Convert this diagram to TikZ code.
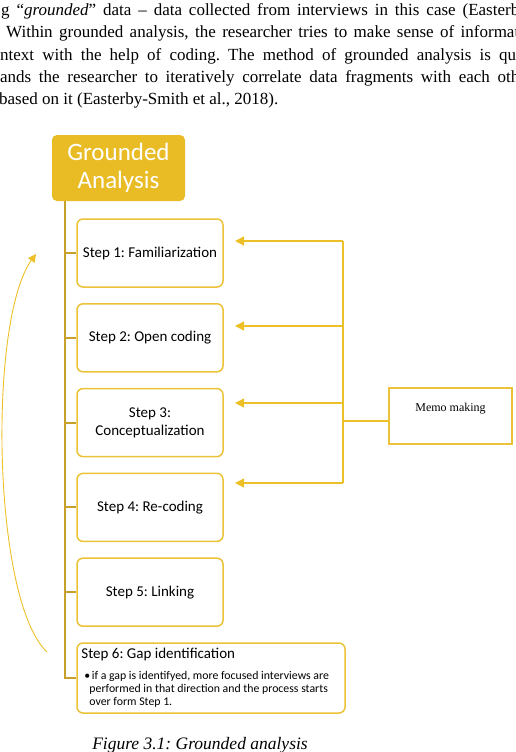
\documentclass[tikz,border=0pt]{standalone}
\usepackage{fontspec}
\setmainfont{Liberation Serif}
\newfontfamily\calibri{Carlito}
\usetikzlibrary{arrows.meta}

\definecolor{gaGold}{RGB}{233,187,36}
\definecolor{gaDark}{RGB}{198,160,42}
\definecolor{gaLine}{RGB}{236,194,56}
\definecolor{gaArrow}{RGB}{238,192,40}

\frenchspacing

\begin{document}
\begin{tikzpicture}[
		x=1pt, y=-1pt,
		body line/.style={anchor=base west, inner sep=0pt, font=\fontsize{17}{22}\selectfont},
		head box/.style={fill=gaGold, rounded corners=5pt, minimum width=133pt, minimum height=66pt,
			inner sep=0pt, align=center, text=white, font=\calibri\fontsize{25}{28}\selectfont},
		step box/.style={draw=gaLine, line width=1.5pt, fill=white, rounded corners=6pt,
			minimum width=146pt, minimum height=68pt, inner sep=0pt, align=center,
			font=\calibri\fontsize{15}{18}\selectfont},
		memo box/.style={draw=gaLine, line width=1.5pt, minimum width=123pt, inner ysep=4pt,
			text height=20pt, text depth=28pt, font=\fontsize{12}{14}\selectfont},
		trunk/.style={draw=gaDark, line width=2pt},
		memo line/.style={color=gaArrow, line width=1.3pt},
		memo arrow/.style={memo line, -{Triangle[length=9pt,width=9pt]}},
		loop arrow/.style={color=gaArrow, line width=0.9pt, -{Triangle[length=8pt,width=8pt]}}
		]
	
	\useasboundingbox (0,0) rectangle (516,752);
	\clip (0,0) rectangle (516,752);
	
	% Body text
	\node[body line] (txt1) at (1,16) {\makebox[518pt][s]{g “\textit{grounded}” data – data collected from interviews in this case (Easterb}};
	\node[body line] (txt2) at (6,38) {\makebox[513pt][s]{Within grounded analysis, the researcher tries to make sense of informat}};
	\node[body line] (txt3) at (0,60) {\makebox[516pt][s]{ntext with the help of coding. The method of grounded analysis is qu}};
	\node[body line] (txt4) at (0,82) {\makebox[519pt][s]{ands the researcher to iteratively correlate data fragments with each oth}};
	\node[body line] (txt5) at (-1,104) {based on it (Easterby-Smith et al., 2018).};
	
	% Head
	\node[head box] (head) at (118.5,168) {Grounded\\Analysis};
	
	% Steps 1 to 5
	\foreach \i/\t in {1/{Step 1: Familiarization}, 2/{Step 2: Open coding},
		3/{Step 3:\\Conceptualization}, 4/{Step 4: Re-coding}, 5/{Step 5: Linking}}{
		\node[step box] (step\i) at (150, {253+84.8*(\i-1)}) {\t};
	}
	
	% Step 6
	\node[step box, minimum width=268pt, minimum height=70pt] (step6) at (211,678) {};
	\node[anchor=base west, inner sep=0pt, font=\calibri\fontsize{15}{18}\selectfont] (step6title)
		at ([xshift=5pt,yshift=-16pt]step6.north west) {Step 6: Gap identification};
	\node[anchor=base west, inner sep=0pt, align=left, font=\calibri\fontsize{11.8}{13}\selectfont] (step6text)
		at ([xshift=8pt,yshift=-63pt]step6.north west)
		{•\hspace{1.5pt}if a gap is identifyed, more focused interviews are\\
		\hspace*{5pt}performed in that direction and the process starts\\
		\hspace*{5pt}over form Step 1.};
	
	% Trunk and branches
	\coordinate (trunktop) at ([xshift=13pt]head.south west);
	\draw[trunk] (trunktop) |- (step6.west);
	\foreach \i in {1,...,5}{
		\draw[trunk] (trunktop |- step\i.west) -- (step\i.west);
	}
	
	% Memo making
	\node[memo box, anchor=north] (memo) at (450.5,387) {Memo making};
	\foreach \i/\y in {1/241, 2/326, 3/403, 4/483}{
		\coordinate (bus\i) at (343,\y);
		\coordinate (tip\i) at (235,\y);
		\draw[memo arrow] (bus\i) -- (tip\i);
	}
	\draw[memo line] (bus1) -- (bus4);
	\coordinate (memoin) at ([yshift=-5pt]memo.west);
	\draw[memo line, line width=1.5pt] (memoin) -- (memoin -| bus1);
	
	% Loop back to step 1
	\coordinate (loopstart) at (47,652);
	\coordinate (loopend) at (36,254);
	\draw[loop arrow] (loopstart) .. controls (-8,600) and (-12,320) .. (loopend);
	
	% Caption
	\node[anchor=base, inner sep=0pt, font=\itshape\fontsize{17.5}{20}\selectfont] (caption)
		at (200,749) {Figure 3.1: Grounded analysis};
	
\end{tikzpicture}
\end{document}
